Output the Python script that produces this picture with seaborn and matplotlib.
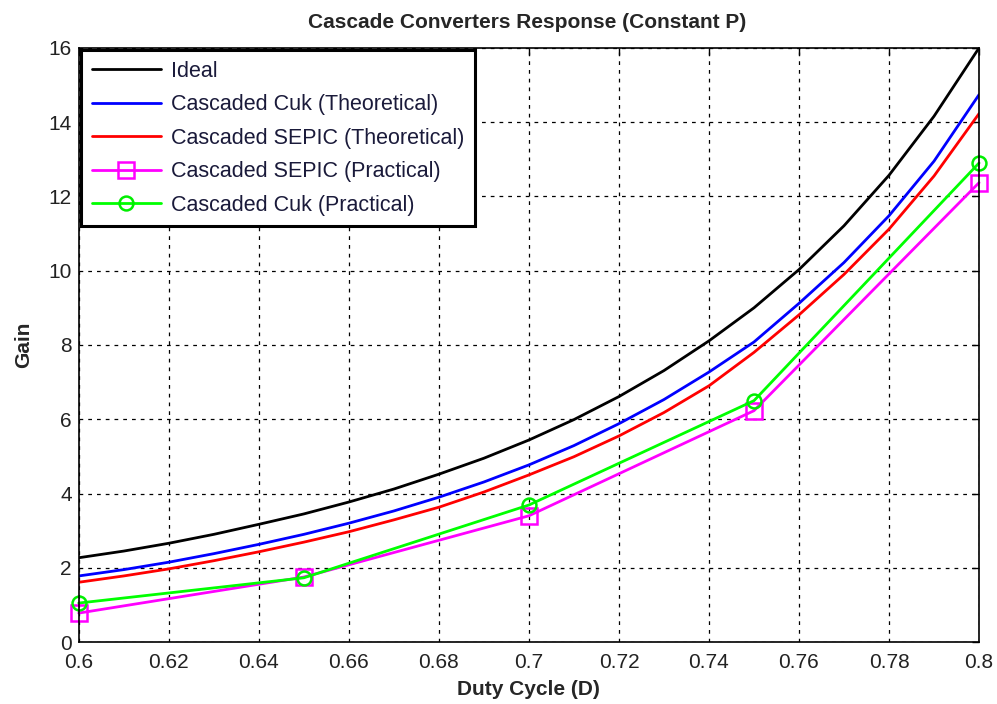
import matplotlib
matplotlib.use("Agg")
import matplotlib.pyplot as plt
import numpy as np
import pandas as pd
import seaborn as sns

# Duty cycle grid for the theoretical curves
duty = [0.60, 0.61, 0.62, 0.63, 0.64, 0.65, 0.66, 0.67, 0.68, 0.69, 0.70,
        0.71, 0.72, 0.73, 0.74, 0.75, 0.76, 0.77, 0.78, 0.79, 0.80]
ideal = [2.27, 2.45, 2.66, 2.90, 3.17, 3.45, 3.77, 4.12, 4.52, 4.95, 5.44,
         5.99, 6.61, 7.31, 8.11, 9.00, 10.03, 11.21, 12.57, 14.16, 16.0]
cuk_theory = [1.78, 1.95, 2.15, 2.38, 2.63, 2.90, 3.20, 3.53, 3.90, 4.31, 4.77,
              5.29, 5.88, 6.53, 7.27, 8.08, 9.12, 10.22, 11.48, 12.95, 14.74]
sepic_theory = [1.61, 1.78, 1.97, 2.19, 2.43, 2.69, 2.97, 3.29, 3.63, 4.04, 4.50,
                4.99, 5.55, 6.18, 6.90, 7.80, 8.81, 9.90, 11.12, 12.55, 14.23]

# Measured points
duty_meas = [0.60, 0.65, 0.70, 0.75, 0.80]
sepic_practical = [0.78, 1.75, 3.40, 6.23, 12.37]
cuk_practical = [1.05, 1.73, 3.69, 6.50, 12.90]

x_ticks = [0.6, 0.62, 0.64, 0.66, 0.68, 0.7, 0.72, 0.74, 0.76, 0.78, 0.8]
x_tick_labels = ["0.6", "0.62", "0.64", "0.66", "0.68", "0.7", "0.72", "0.74", "0.76", "0.78", "0.8"]
y_ticks = [0, 2, 4, 6, 8, 10, 12, 14, 16]

sns.set_style("white")
plt.rcParams["font.family"] = ["Liberation Sans", "DejaVu Sans"]

fig = plt.figure(figsize=(9.97, 7.04), dpi=100)
ax = fig.add_axes([0.079, 0.088, 0.903, 0.844])

theory = pd.DataFrame({"D": duty, "Ideal": ideal,
                       "Cuk": cuk_theory, "SEPIC": sepic_theory})
meas = pd.DataFrame({"D": duty_meas, "SEPIC": sepic_practical, "Cuk": cuk_practical})

lw = 2.0
sns.lineplot(data=theory, x="D", y="Ideal", ax=ax, color="black", lw=lw,
             label="Ideal")
sns.lineplot(data=theory, x="D", y="Cuk", ax=ax, color="#0000ff", lw=lw,
             label="Cascaded Cuk (Theoretical)")
sns.lineplot(data=theory, x="D", y="SEPIC", ax=ax, color="#ff0000", lw=lw,
             label="Cascaded SEPIC (Theoretical)")
sns.lineplot(data=meas, x="D", y="SEPIC", ax=ax, color="#ff00ff", lw=lw,
             marker="s", markersize=11, markerfacecolor="none",
             markeredgecolor="#ff00ff", markeredgewidth=1.8, clip_on=False,
             label="Cascaded SEPIC (Practical)")
sns.lineplot(data=meas, x="D", y="Cuk", ax=ax, color="#00ff00", lw=lw,
             marker="o", markersize=10, markerfacecolor="none",
             markeredgecolor="#00ee00", markeredgewidth=1.8, clip_on=False,
             label="Cascaded Cuk (Practical)")

ax.set_xlim(0.6, 0.8)
ax.set_ylim(0, 16)
ax.set_xticks(x_ticks)
ax.set_xticklabels(x_tick_labels)
ax.set_yticks(y_ticks)
ax.tick_params(direction="in", length=5, width=1, top=True, right=True,
               labelsize=15, colors="black")
ax.tick_params(axis="x", pad=8)
ax.tick_params(axis="y", pad=5)
for lab in ax.get_xticklabels() + ax.get_yticklabels():
    lab.set_color("#222222")

ax.grid(True, color="black", linestyle=(0, (3, 4)), linewidth=0.9)
for s in ax.spines.values():
    s.set_color("black")
    s.set_linewidth(1.2)

fig.text(0.529, 1 - 22 / 704, "Cascade Converters Response (Constant P)",
         fontsize=15, fontweight="bold", ha="center", va="center")
ax.set_xlabel("Duty Cycle (D)", fontsize=15, fontweight="bold", labelpad=6)
ax.set_ylabel("Gain", fontsize=15, fontweight="bold", labelpad=11)

leg = ax.legend(loc="upper left", bbox_to_anchor=(0.0, 1.0), fontsize=15.5,
                frameon=True, fancybox=False, framealpha=1, edgecolor="black",
                borderpad=0.5, labelspacing=0.58, handlelength=3.2,
                handletextpad=0.5, borderaxespad=0.1)
leg.get_frame().set_linewidth(2.2)
for t in leg.get_texts():
    t.set_color("#1a1a3a")

fig.savefig("out.png", dpi=100, facecolor="white")
